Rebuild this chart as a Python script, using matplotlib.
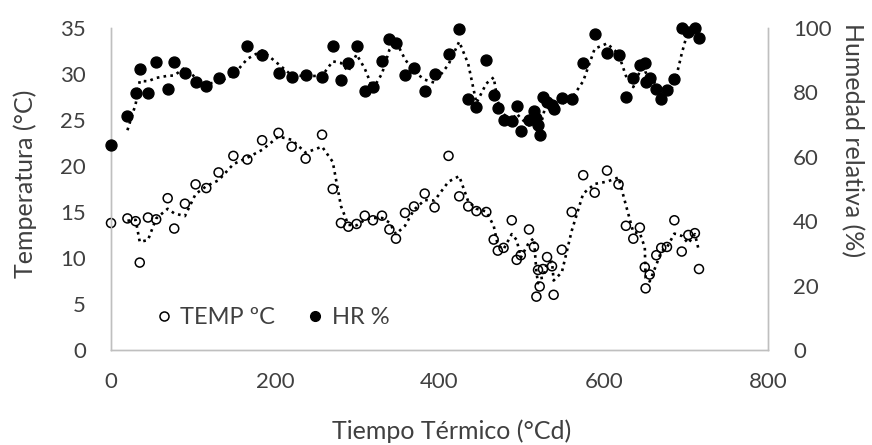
import matplotlib
matplotlib.use('Agg')
import matplotlib.pyplot as plt
from matplotlib.lines import Line2D
import numpy as np

plt.rcParams['font.family'] = ['Lato', 'DejaVu Sans']

# Thermal time (°Cd)
tiempo = [0, 20, 30, 35, 45, 55, 69, 77, 90, 103, 116, 131, 149, 166, 184, 204,
          220, 237, 257, 270, 280, 289, 299, 309, 319, 330, 339, 347, 358, 369,
          382, 394, 411, 424, 435, 445, 457, 466, 471, 478, 488, 494, 499, 509,
          515, 518, 520, 522, 526, 531, 537, 539, 549, 561, 575, 589, 604, 618,
          627, 636, 644, 650, 651, 656, 664, 670, 677, 686, 695, 703, 711, 716]
# Temperature (°C)
temp = [13.8, 14.3, 14.0, 9.5, 14.4, 14.2, 16.5, 13.2, 15.9, 18.0, 17.6, 19.3,
        21.1, 20.7, 22.8, 23.6, 22.1, 20.8, 23.4, 17.5, 13.8, 13.4, 13.7, 14.6,
        14.1, 14.6, 13.1, 12.1, 14.9, 15.6, 17.0, 15.5, 21.1, 16.7, 15.6, 15.1,
        15.0, 12.0, 10.8, 11.1, 14.1, 9.8, 10.3, 13.1, 11.2, 5.8, 8.7, 6.9,
        8.8, 10.1, 9.1, 6.0, 10.9, 15.0, 19.0, 17.1, 19.5, 18.0, 13.5, 12.1,
        13.3, 9.0, 6.7, 8.2, 10.3, 11.1, 11.2, 14.1, 10.7, 12.5, 12.7, 8.8]
# Relative humidity (%)
hr = [63.7, 72.8, 79.9, 87.2, 79.7, 89.3, 81.0, 89.5, 85.9, 83.1, 82.1, 84.4,
      86.4, 94.4, 91.6, 85.9, 84.7, 85.4, 84.9, 94.4, 83.9, 89.2, 94.4, 80.4,
      81.8, 89.9, 96.5, 95.2, 85.4, 87.5, 80.4, 85.6, 91.8, 99.7, 78.0, 75.4,
      90.1, 79.2, 75.1, 71.4, 71.1, 75.8, 68.1, 71.4, 74.3, 72.0, 70.0, 66.8,
      78.5, 77.1, 76.1, 74.7, 78.2, 78.0, 89.0, 98.1, 92.3, 91.6, 78.7, 84.6,
      88.5, 89.2, 83.3, 84.4, 81.2, 78.0, 80.7, 84.1, 100.0, 98.9, 100.0, 97.0]

x_ticks = [0, 200, 400, 600, 800]
temp_ticks = [0, 5, 10, 15, 20, 25, 30, 35]
hr_ticks = [0, 20, 40, 60, 80, 100]


def moving_avg(v, n=2):
    v = np.asarray(v, float)
    return np.convolve(v, np.ones(n) / n, mode='valid')


TXT = '#404040'
AX = '#bfbfbf'

fig = plt.figure(figsize=(8.72, 4.45), dpi=100)
ax1 = fig.add_axes([0.1273, 0.2135, 0.7534, 0.7236])
ax2 = ax1.twinx()

x = np.asarray(tiempo, float)
ax1.scatter(x, temp, s=42, facecolors='none', edgecolors='black',
            linewidths=1.1, zorder=3, clip_on=False)
ax1.plot(x[1:], moving_avg(temp), color='black', lw=1.9, dashes=(1, 1.6),
         zorder=4)

ax2.scatter(x, hr, s=62, color='black', zorder=3, clip_on=False)
ax2.plot(x[1:], moving_avg(hr), color='black', lw=1.9, dashes=(1, 1.6),
         zorder=4)

ax1.set_xlim(0, 800)
ax1.set_ylim(0, 35)
ax2.set_ylim(0, 100)
ax1.set_xticks(x_ticks)
ax1.set_yticks(temp_ticks)
ax2.set_yticks(hr_ticks)

for ax in (ax1, ax2):
    ax.spines['top'].set_visible(False)
    for s in ('left', 'right', 'bottom'):
        ax.spines[s].set_color(AX)
        ax.spines[s].set_linewidth(1.0)
    ax.tick_params(length=0, labelsize=16, labelcolor=TXT)
ax1.tick_params(axis='y', pad=18)
ax2.tick_params(axis='y', pad=18)
ax1.tick_params(axis='x', pad=16)

fig.text(0.029, 0.587, 'Temperatura (°C)', rotation=90, ha='center',
         va='center', fontsize=18, color=TXT)
fig.text(0.978, 0.685, 'Humedad relativa (%)', rotation=-90, ha='center',
         va='center', fontsize=18, color=TXT)
fig.text(0.518, 0.03, 'Tiempo Térmico (°Cd)', ha='center', va='center',
         fontsize=18, color=TXT)

handles = [
    Line2D([], [], linestyle='none', marker='o', markersize=6.5,
           markerfacecolor='none', markeredgecolor='black', markeredgewidth=1.1),
    Line2D([], [], linestyle='none', marker='o', markersize=7,
           markerfacecolor='black', markeredgecolor='black'),
]
leg = ax2.legend(handles, ['TEMP ºC', 'HR %'], loc='center left',
                 bbox_to_anchor=(0.055, 0.1), ncol=2, frameon=False,
                 fontsize=17, handlelength=0.6, handletextpad=0.4,
                 columnspacing=1.4, borderaxespad=0)
for t in leg.get_texts():
    t.set_color(TXT)

fig.savefig('out.png', dpi=100)
